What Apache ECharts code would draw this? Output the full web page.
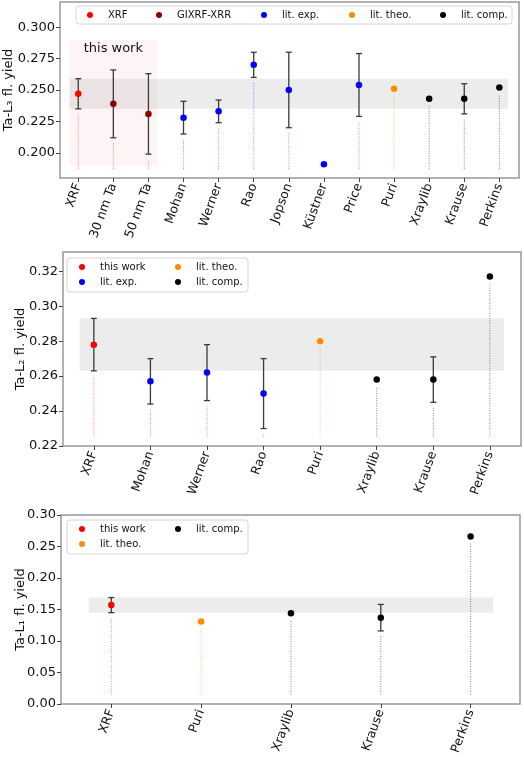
<!DOCTYPE html>
<html><head><meta charset="utf-8">
<script src="https://cdn.jsdelivr.net/npm/echarts@6/dist/echarts.min.js"></script>
<style>html,body{margin:0;padding:0;background:#fff}#c{width:524px;height:759px}</style>
</head><body><div id="c"></div>
<script>
// ---------- data ----------
const l3Categories = ['XRF','30 nm Ta','50 nm Ta','Mohan','Werner','Rao','Jopson','Küstner','Price','Puri','Xraylib','Krause','Perkins'];
const l3Values = [0.247,0.239,0.231,0.228,0.233,0.270,0.250,0.191,0.254,0.251,0.243,0.243,0.252];
const l3Errors = [0.012,0.027,0.032,0.013,0.009,0.010,0.030,0,0.025,0,0,0.012,0];
const l3Groups = ['XRF','GIXRF-XRR','GIXRF-XRR','lit. exp.','lit. exp.','lit. exp.','lit. exp.','lit. exp.','lit. exp.','lit. theo.','lit. comp.','lit. comp.','lit. comp.'];
const l3YTicks = [0.200,0.225,0.250,0.275,0.300];
const l3Range = [0.18,0.32];
const l3XRange = [-0.52,12.56];
const l3StemBase = 0.187;
const thisWorkBox = [0.19,0.29];

const l2Categories = ['XRF','Mohan','Werner','Rao','Puri','Xraylib','Krause','Perkins'];
const l2Values = [0.278,0.257,0.262,0.250,0.280,0.258,0.258,0.317];
const l2Errors = [0.015,0.013,0.016,0.020,0,0,0.013,0];
const l2Groups = ['this work','lit. exp.','lit. exp.','lit. exp.','lit. theo.','lit. comp.','lit. comp.','lit. comp.'];
const l2YTicks = [0.22,0.24,0.26,0.28,0.30,0.32];
const l2Range = [0.22,0.331];
const l2XRange = [-0.545,7.55];
const l2StemBase = 0.2255;

const l1Categories = ['XRF','Puri','Xraylib','Krause','Perkins'];
const l1Values = [0.157,0.131,0.144,0.137,0.266];
const l1Errors = [0.012,0,0,0.021,0];
const l1Groups = ['this work','lit. theo.','lit. comp.','lit. comp.','lit. comp.'];
const l1YTicks = [0.00,0.05,0.10,0.15,0.20,0.25,0.30];
const l1Range = [0,0.30];
const l1XRange = [-0.56,4.55];
const l1StemBase = 0.015;

// ---------- styles / layout ----------
const FONT = 'DejaVu Sans';
const markerColors = {'XRF':'#ff0000','this work':'#ff0000','GIXRF-XRR':'#8b0000','lit. exp.':'#0000ff','lit. theo.':'#ff8c00','lit. comp.':'#000000'};
const stemColors = {'XRF':'rgba(255,0,0,0.5)','this work':'rgba(255,0,0,0.5)','GIXRF-XRR':'rgba(255,0,0,0.5)','lit. exp.':'rgba(0,0,255,0.45)','lit. theo.':'rgba(255,140,0,0.55)','lit. comp.':'rgba(0,0,0,0.5)'};
const errColor = '#3a3a3a';

const grids = [
  {left:60, right:5, top:2, height:176},
  {left:63, right:3, top:252, height:194},
  {left:61, right:4, top:515, height:189}
];

// legend layout: boxes [x, y, w, h] and entries [name, iconCenterX, rowCenterY]
const legendBoxes = [[76,6,436,18],[67,258,181,34],[67,520,181,34]];
const legendEntries = [
  ['XRF',90,15],['GIXRF-XRR',159,15],['lit. exp.',264,15],['lit. theo.',352,15],['lit. comp.',443,15],
  ['this work',82,267],['lit. exp.',82,282],['lit. theo.',178,267],['lit. comp.',178,282],
  ['this work',82,529],['lit. theo.',82,544],['lit. comp.',178,529]
];

const panels = [
  {cats:l3Categories, vals:l3Values, errs:l3Errors, groups:l3Groups, ticks:l3YTicks, range:l3Range, xr:l3XRange, base:l3StemBase, dec:3, name:'Ta-L\u2083 fl. yield', nameGap:45},
  {cats:l2Categories, vals:l2Values, errs:l2Errors, groups:l2Groups, ticks:l2YTicks, range:l2Range, xr:l2XRange, base:l2StemBase, dec:2, name:'Ta-L\u2082 fl. yield', nameGap:36},
  {cats:l1Categories, vals:l1Values, errs:l1Errors, groups:l1Groups, ticks:l1YTicks, range:l1Range, xr:l1XRange, base:l1StemBase, dec:2, name:'Ta-L\u2081 fl. yield', nameGap:34}
];

function bandRender(fill, label){
  return function(params, api){
    const a = api.coord([api.value(0), api.value(2)]);
    const b = api.coord([api.value(3), api.value(1)]);
    const children = [{type:'rect', shape:{x:a[0], y:a[1], width:b[0]-a[0], height:b[1]-a[1]}, style:{fill:fill}}];
    if (label) children.push({type:'text', style:{text:label, x:(a[0]+b[0])/2, y:a[1]+2, align:'center', verticalAlign:'top', font:'13px "DejaVu Sans"', fill:'#111'}});
    return {type:'group', children:children};
  };
}
function stemRender(groups){
  return function(params, api){
    const i = api.value(0), v = api.value(1), e = api.value(2);
    const base = api.coord([i, api.value(3)]);
    const topPx = e > 0 ? api.coord([i, v - e])[1] + 5 : api.coord([i, v])[1] + 7;
    if (topPx >= base[1] - 1) return null;
    return {type:'line', shape:{x1:base[0], y1:base[1], x2:base[0], y2:topPx},
      style:{stroke:stemColors[groups[i]], lineWidth:1, lineDash:[1,1.5]}};
  };
}
function errRender(params, api){
  const i = api.value(0), v = api.value(1), e = api.value(2);
  const hi = api.coord([i, v + e]), lo = api.coord([i, v - e]);
  const cw = 3, st = {stroke:errColor, lineWidth:1.3};
  return {type:'group', children:[
    {type:'line', shape:{x1:hi[0], y1:hi[1], x2:lo[0], y2:lo[1]}, style:st},
    {type:'line', shape:{x1:hi[0]-cw, y1:hi[1], x2:hi[0]+cw, y2:hi[1]}, style:st},
    {type:'line', shape:{x1:lo[0]-cw, y1:lo[1], x2:lo[0]+cw, y2:lo[1]}, style:st}
  ]};
}

const xAxes = [], yAxes = [], series = [];
panels.forEach((p, k) => {
  const idx = p.cats.map((c, i) => i);
  xAxes.push({type:'value', gridIndex:k, min:p.xr[0], max:p.xr[1], position:'bottom',
    axisLine:{show:false, onZero:false}, splitLine:{show:false},
    axisTick:{show:true, length:4, lineStyle:{color:'#444'}, customValues:idx},
    axisLabel:{rotate:70, margin:6, fontFamily:FONT, fontSize:12.5, color:'#111', customValues:idx,
      formatter:v => p.cats[Math.round(v)]}});
  yAxes.push({type:'value', gridIndex:k, min:p.range[0], max:p.range[1], position:'left',
    name:p.name, nameLocation:'middle', nameGap:p.nameGap, nameMoveOverlap:false,
    nameTextStyle:{fontFamily:FONT, fontSize:13, color:'#111'},
    axisLine:{show:false, onZero:false}, splitLine:{show:false},
    axisTick:{show:true, length:4, lineStyle:{color:'#444'}, customValues:p.ticks},
    axisLabel:{fontFamily:FONT, fontSize:13, color:'#111', margin:5, customValues:p.ticks, formatter:v => v.toFixed(p.dec)}});
  const n = p.cats.length;
  const b0 = p.vals[0] - p.errs[0], b1 = p.vals[0] + p.errs[0];
  series.push({type:'custom', xAxisIndex:k, yAxisIndex:k, z:1, silent:true,
    renderItem:bandRender('rgba(150,150,150,0.18)'), data:[[-0.25, b0, b1, n - 0.75]]});
  if (k === 0) series.push({type:'custom', xAxisIndex:k, yAxisIndex:k, z:1, silent:true,
    renderItem:bandRender('rgba(220,80,80,0.06)', 'this work'), data:[[-0.25, thisWorkBox[0], thisWorkBox[1], 2.25]]});
  series.push({type:'custom', xAxisIndex:k, yAxisIndex:k, z:2, silent:true,
    renderItem:stemRender(p.groups), data:p.vals.map((v,i)=>[i, v, p.errs[i], p.base])});
  series.push({type:'custom', xAxisIndex:k, yAxisIndex:k, z:3, silent:true,
    renderItem:errRender, data:p.vals.map((v,i)=>[i, v, p.errs[i]]).filter(d=>d[2]>0)});
  const uniq = [...new Set(p.groups)];
  uniq.forEach(g => {
    series.push({type:'scatter', name:g, xAxisIndex:k, yAxisIndex:k, z:4, symbol:'circle', symbolSize:6.5,
      itemStyle:{color:markerColors[g], opacity:1},
      data:p.vals.map((v,i)=>[i, v]).filter((d,i)=>p.groups[i]===g)});
  });
});

// one legend component per entry; the item box starts at the icon's left edge
const ICON = 6, ROW_H = 13;
const legends = legendEntries.map(([name, cx, cy]) => ({
  show:true, data:[name], icon:'circle', itemWidth:26, itemHeight:ICON, itemGap:0, align:'left',
  left:cx - ICON/2, top:cy - ROW_H/2, padding:0, selectedMode:false, z:12,
  textStyle:{fontFamily:FONT, fontSize:10, color:'#111', lineHeight:ROW_H}
}));
const graphic = legendBoxes.map(([x,y,w,h]) => ({type:'rect', z:10, silent:true,
  shape:{x:x, y:y, width:w, height:h, r:3},
  style:{fill:'rgba(255,255,255,0.85)', stroke:'#d4d4d4', lineWidth:1}}));

const chart = echarts.init(document.getElementById('c'), null, {renderer:'canvas'});
chart.setOption({
  animation:false,
  backgroundColor:'#fff',
  grid:grids.map(g => Object.assign({show:true, borderColor:'#999', borderWidth:1.5, backgroundColor:'transparent', outerBoundsMode:'none'}, g)),
  xAxis:xAxes, yAxis:yAxes, legend:legends, graphic:graphic, series:series
});
</script></body></html>
